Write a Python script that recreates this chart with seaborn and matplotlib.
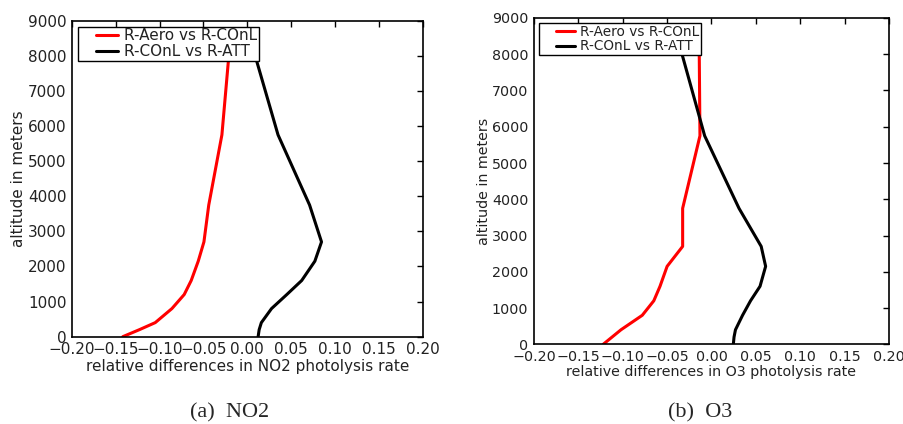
import matplotlib
matplotlib.use("Agg")
import matplotlib.pyplot as plt
from matplotlib.lines import Line2D
from matplotlib.legend_handler import HandlerLine2D
import seaborn as sns
import pandas as pd

# altitude levels (m)
altitude = [0, 200, 400, 800, 1200, 1600, 2150, 2700, 3750, 5750, 8600]

# NO2 photolysis rate, relative differences
no2_aero_vs_conl = [-0.142, -0.123, -0.105, -0.086, -0.072, -0.064, -0.056, -0.0495, -0.044, -0.029, -0.019]
no2_conl_vs_att = [0.0123, 0.0135, 0.016, 0.0276, 0.045, 0.062, 0.077, 0.0846, 0.071, 0.035, 0.002]

# O3 photolysis rate, relative differences
o3_aero_vs_conl = [-0.122, -0.112, -0.102, -0.078, -0.065, -0.058, -0.050, -0.0325, -0.0325, -0.013, -0.014]
o3_conl_vs_att = [0.0246, 0.0254, 0.027, 0.035, 0.044, 0.0547, 0.061, 0.056, 0.031, -0.0077, -0.040]

series_names = ["R-Aero vs R-COnL", "R-COnL vs R-ATT"]
series_colors = ["red", "black"]
xticks = [-0.20, -0.15, -0.10, -0.05, 0.00, 0.05, 0.10, 0.15, 0.20]
yticks = list(range(0, 9001, 1000))


def make_frame(first, second):
    rows = []
    for name, vals in zip(series_names, [first, second]):
        for alt, v in zip(altitude, vals):
            rows.append({"series": name, "diff": v, "altitude": alt})
    return pd.DataFrame(rows)


def draw_panel(ax, df, xlabel, fs, lfs):
    sns.lineplot(data=df, x="diff", y="altitude", hue="series",
                 palette=series_colors, sort=False, estimator=None,
                 linewidth=2.2, ax=ax)
    ax.set_xlim(-0.2, 0.2)
    ax.set_ylim(0, 9000)
    ax.set_xticks(xticks)
    ax.set_yticks(yticks)
    ax.set_xticklabels([f"{t:.2f}".replace("-", "\u2212") for t in xticks])
    ax.tick_params(direction="in", top=True, right=True, length=4,
                   width=1, labelsize=fs, colors="black", pad=4)
    ax.tick_params(axis="both", labelcolor="#222222")
    ax.set_xlabel(xlabel, fontsize=fs, labelpad=1, color="#222222")
    ax.set_ylabel("altitude in meters", fontsize=fs, labelpad=1, color="#222222")
    for sp in ax.spines.values():
        sp.set_linewidth(1.2)
        sp.set_color("black")
    # old-style legend: short line handles inset from the frame
    leg = ax.legend(loc="upper left", fontsize=lfs, frameon=True,
                    fancybox=False, borderaxespad=0.4, borderpad=0.1,
                    handlelength=2.5, labelspacing=0.05, handletextpad=0.4,
                    handler_map={Line2D: HandlerLine2D(xpad=1.1)})
    leg.get_frame().set_edgecolor("black")
    leg.get_frame().set_linewidth(1.0)
    leg.get_frame().set_alpha(1.0)
    for t in leg.get_texts():
        t.set_color("#222222")


sns.set_style("white")
plt.rcParams["font.family"] = ["DejaVu Sans"]

fig = plt.figure(figsize=(9.04, 4.24), dpi=100)
ax1 = fig.add_axes([0.0796, 0.206, 0.388, 0.745])
ax2 = fig.add_axes([0.5907, 0.188, 0.3927, 0.7696])

draw_panel(ax1, make_frame(no2_aero_vs_conl, no2_conl_vs_att),
           "relative differences in NO2 photolysis rate", 11, 11)
draw_panel(ax2, make_frame(o3_aero_vs_conl, o3_conl_vs_att),
           "relative differences in O3 photolysis rate", 10.3, 9.8)

fig.text(0.254, 0.026, "(a)  NO2", ha="center", va="center", fontsize=16,
         family="Liberation Serif")
fig.text(0.774, 0.026, "(b)  O3", ha="center", va="center", fontsize=16,
         family="Liberation Serif")

fig.savefig("out.png", dpi=100)
